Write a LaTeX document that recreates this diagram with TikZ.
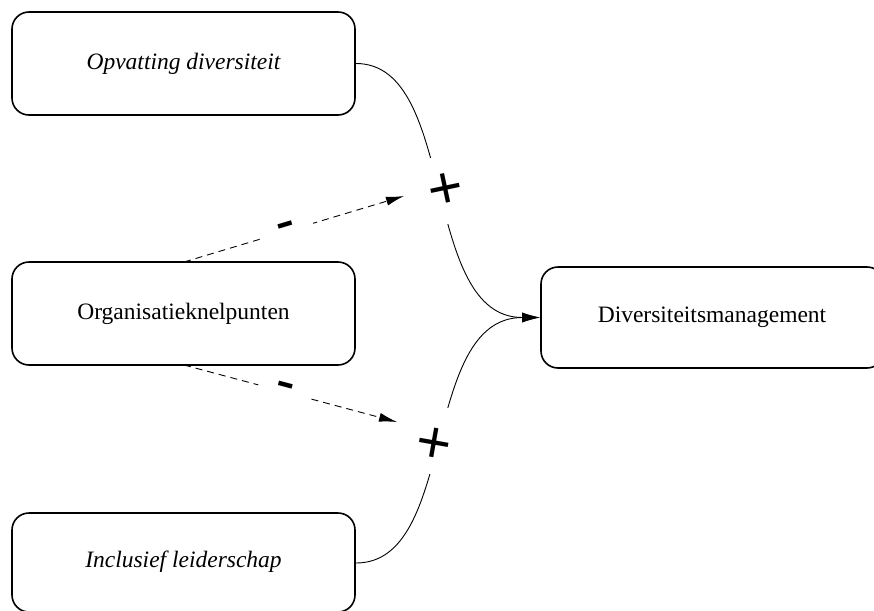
\documentclass[tikz,border=0pt]{standalone}
\usepackage{fontspec}
\setmainfont{Liberation Serif}
\newfontfamily\signfont{Liberation Sans}
\usetikzlibrary{arrows.meta}
\tikzset{
  box/.style={draw, line width=1.6pt, rounded corners=17pt, fill=white},
  boxtext/.style={font=\fontsize{23.5}{28}\selectfont},
  link/.style={line width=0.9pt, -{Latex[length=18pt,width=10pt]}},
  dlink/.style={line width=0.9pt, dash pattern=on 7pt off 5pt, -{Latex[length=18pt,width=9pt]}},
  gap/.style={fill=white, inner sep=0pt, minimum width=26pt, minimum height=66pt},
  plus/.style={inner sep=0pt, font=\signfont\fontsize{60}{60}\selectfont},
  minus/.style={fill=white, inner xsep=17pt, inner ysep=0pt, sloped, font=\signfont\fontsize{58}{58}\selectfont}
}
\begin{document}
\begin{tikzpicture}[x=1pt,y=-1pt]
\useasboundingbox (0,0) rectangle (874,610);
\draw[box] (12,12) rectangle (355,115);
\node[boxtext] (opv) at (183.5,63.5) {\itshape Opvatting diversiteit};
\draw[box] (12,262) rectangle (355,365);
\node[boxtext] (org) at (183.5,313.5) {Organisatieknelpunten};
\draw[box] (12,513) rectangle (355,612);
\node[boxtext] (inc) at (183.5,562) {\itshape Inclusief leiderschap};
\draw[box] (541,267) rectangle (884,368);
\node[boxtext] (div) at (712,317.5) {Diversiteitsmanagement};
\coordinate (a) at (356,63.5);
\coordinate (b) at (356,563);
\coordinate (c) at (540,317.5);
\coordinate (o1) at (184,262);
\coordinate (o2) at (184,365);
\coordinate (t1) at (404,196);
\coordinate (t2) at (397,422);
\draw[link] (a) .. controls (458,63.5) and (420,317.5) .. (c);
\draw[link] (b) .. controls (458,563) and (420,317.5) .. (c);
\node[gap] (g1) at (441,190.5) {};
\node[gap] (g2) at (440,440.5) {};
\node[plus, rotate=12] (p1) at (446,191) {+};
\node[plus, rotate=-10] (p2) at (434,445) {+};
\draw[dlink] (o1) -- (t1) node[minus, pos=0.47] (m1) {-};
\draw[dlink] (o2) -- (t2) node[minus, pos=0.47] (m2) {-};
\end{tikzpicture}
\end{document}
